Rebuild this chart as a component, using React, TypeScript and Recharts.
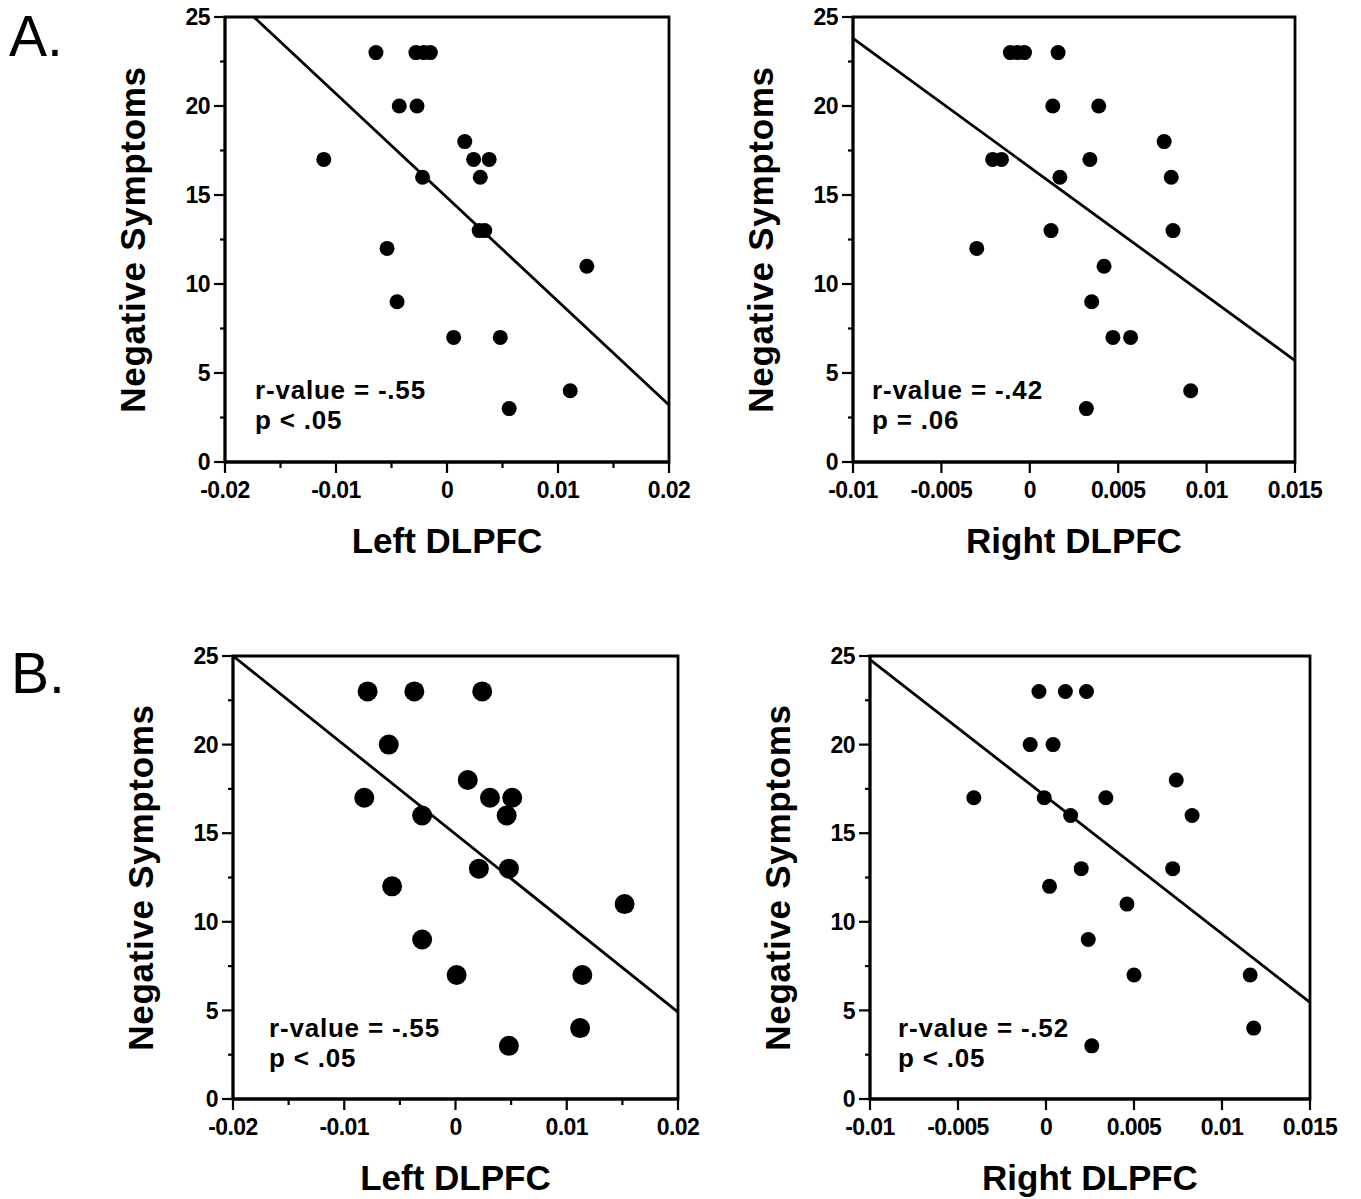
import React from 'react';
import { ScatterChart, Scatter, XAxis, YAxis, ReferenceLine, ReferenceArea } from 'recharts';

const FONT = '"Liberation Sans", Arial, Helvetica, sans-serif';

// tick values shared by the panels
const leftXMajor = [-0.02, -0.01, 0, 0.01, 0.02];
const leftXMinor = [-0.015, -0.005, 0.005, 0.015];
const rightXMajor = [-0.01, -0.005, 0, 0.005, 0.01, 0.015];
const rightXMinor: number[] = [];
const yMajor = [0, 5, 10, 15, 20, 25];
const yMinor = [2.5, 7.5, 12.5, 17.5, 22.5];

// A. left DLPFC
const aLeftX = [-0.0064, -0.0028, -0.0021, -0.0015, -0.0043, -0.0027, -0.0111, -0.0022, 0.0016, 0.0024, 0.0038, 0.003, 0.0029, 0.0034, -0.0054, -0.0045, 0.0006, 0.0048, 0.0126, 0.0111, 0.0056];
const aLeftY = [23, 23, 23, 23, 20, 20, 17, 16, 18, 17, 17, 16, 13, 13, 12, 9, 7, 7, 11, 4, 3];
const aLeftFitX = [-0.0174, 0.02];
const aLeftFitY = [25, 3.2];

// A. right DLPFC
const aRightX = [-0.0011, -0.0007, -0.0003, 0.0016, 0.0013, 0.0039, -0.0021, -0.0016, 0.0034, 0.0017, 0.0076, 0.008, 0.0081, 0.0012, -0.003, 0.0042, 0.0035, 0.0047, 0.0057, 0.0091, 0.0032];
const aRightY = [23, 23, 23, 23, 20, 20, 17, 17, 17, 16, 18, 16, 13, 13, 12, 11, 9, 7, 7, 4, 3];
const aRightFitX = [-0.01, 0.015];
const aRightFitY = [23.8, 5.7];

// B. left DLPFC
const bLeftX = [-0.0079, -0.0037, 0.0024, -0.006, -0.0082, -0.003, 0.0011, 0.0031, 0.0051, 0.0046, 0.0021, 0.0048, -0.0057, -0.003, 0.0001, 0.0114, 0.0152, 0.0112, 0.0048];
const bLeftY = [23, 23, 23, 20, 17, 16, 18, 17, 17, 16, 13, 13, 12, 9, 7, 7, 11, 4, 3];
const bLeftFitX = [-0.02, 0.02];
const bLeftFitY = [25, 4.9];

// B. right DLPFC
const bRightX = [-0.0004, 0.0011, 0.0023, -0.0009, 0.0004, -0.0041, -0.0001, 0.0034, 0.0014, 0.0074, 0.0083, 0.0072, 0.002, 0.0002, 0.0046, 0.0024, 0.005, 0.0116, 0.0118, 0.0026];
const bRightY = [23, 23, 23, 20, 20, 17, 17, 17, 16, 18, 16, 13, 13, 12, 11, 9, 7, 7, 4, 3];
const bRightFitX = [-0.01, 0.015];
const bRightFitY = [24.8, 5.45];

const isIn = (arr: number[], v: number) => arr.some((m) => Math.abs(m - v) < 1e-9);

const PAD_L = 150;
const PAD_T = 20;
const PAD_R = 60;
const PAD_B = 120;

function Panel(props: any) {
  const { left, top, w, h, xMajor, xMinor, xs, ys, fitX, fitY, r } = props;
  const data = xs.map((x: number, i: number) => ({ x, y: ys[i] }));
  const xDomain = [xMajor[0], xMajor[xMajor.length - 1]];
  const xTicks = [...xMajor, ...xMinor].sort((a, b) => a - b);
  const yTicks = [...yMajor, ...yMinor].sort((a, b) => a - b);

  const xTick = (p: any) => {
    const major = isIn(xMajor, p.payload.value);
    return (
      <g>
        <line x1={p.x} x2={p.x} y1={p.y} y2={p.y + (major ? 11 : 6)} stroke="#000" strokeWidth={2.2} />
        {major && (
          <text x={p.x} y={p.y + 36} textAnchor="middle" fontFamily={FONT} fontWeight="bold" fontSize={23} letterSpacing={-0.6} fill="#000">
            {String(p.payload.value)}
          </text>
        )}
      </g>
    );
  };
  const yTick = (p: any) => {
    const major = isIn(yMajor, p.payload.value);
    return (
      <g>
        <line x1={p.x} x2={p.x - (major ? 11 : 5)} y1={p.y} y2={p.y} stroke="#000" strokeWidth={2.2} />
        {major && (
          <text x={p.x - 15} y={p.y} dy="0.36em" textAnchor="end" fontFamily={FONT} fontWeight="bold" fontSize={23} letterSpacing={-0.6} fill="#000">
            {String(p.payload.value)}
          </text>
        )}
      </g>
    );
  };

  return (
    <div style={{ position: 'absolute', left: left - PAD_L, top: top - PAD_T }}>
      <ScatterChart width={w + PAD_L + PAD_R} height={h + PAD_T + PAD_B} margin={{ top: PAD_T, right: PAD_R, bottom: 0, left: 0 }}>
        <XAxis
          type="number"
          dataKey="x"
          domain={xDomain}
          ticks={xTicks}
          interval={0}
          height={PAD_B}
          tickSize={0}
          tickMargin={0}
          tickLine={false}
          tick={xTick}
          axisLine={{ stroke: '#000', strokeWidth: 2.8 }}
          allowDataOverflow
        />
        <YAxis
          type="number"
          dataKey="y"
          domain={[0, 25]}
          ticks={yTicks}
          interval={0}
          width={PAD_L}
          tickSize={0}
          tickMargin={0}
          tickLine={false}
          tick={yTick}
          axisLine={{ stroke: '#000', strokeWidth: 2.8 }}
          allowDataOverflow
        />
        <ReferenceArea x1={xDomain[0]} x2={xDomain[1]} y1={0} y2={25} fill="none" stroke="#000" strokeWidth={2.8} />
        <ReferenceLine
          segment={[{ x: fitX[0], y: fitY[0] }, { x: fitX[1], y: fitY[1] }]}
          stroke="#000"
          strokeWidth={2.8}
        />
        <Scatter
          data={data}
          isAnimationActive={false}
          shape={(s: any) => <circle cx={s.cx} cy={s.cy} r={r} fill="#000" />}
        />
      </ScatterChart>
    </div>
  );
}

const panels = [
  { key: 'al', left: 225, top: 17, w: 444, h: 445, xMajor: leftXMajor, xMinor: leftXMinor, xs: aLeftX, ys: aLeftY, fitX: aLeftFitX, fitY: aLeftFitY, r: 7.5, xLabel: 'Left DLPFC', r1: 'r-value = -.55', r2: 'p < .05', tx: 255, ty: 399 },
  { key: 'ar', left: 853, top: 17, w: 442, h: 445, xMajor: rightXMajor, xMinor: rightXMinor, xs: aRightX, ys: aRightY, fitX: aRightFitX, fitY: aRightFitY, r: 7.5, xLabel: 'Right DLPFC', r1: 'r-value = -.42', r2: 'p = .06', tx: 872, ty: 399 },
  { key: 'bl', left: 233, top: 656, w: 445, h: 443, xMajor: leftXMajor, xMinor: leftXMinor, xs: bLeftX, ys: bLeftY, fitX: bLeftFitX, fitY: bLeftFitY, r: 10, xLabel: 'Left DLPFC', r1: 'r-value = -.55', r2: 'p < .05', tx: 269, ty: 1037 },
  { key: 'br', left: 870, top: 656, w: 440, h: 443, xMajor: rightXMajor, xMinor: rightXMinor, xs: bRightX, ys: bRightY, fitX: bRightFitX, fitY: bRightFitY, r: 7.5, xLabel: 'Right DLPFC', r1: 'r-value = -.52', r2: 'p < .05', tx: 898, ty: 1037 },
];

export default function App() {
  return (
    <div style={{ position: 'absolute', left: 0, top: 0, width: 1361, height: 1199, background: '#fff', overflow: 'hidden' }}>
      {panels.map((p) => (
        <Panel key={p.key} {...p} />
      ))}
      <svg width={1361} height={1199} style={{ position: 'absolute', left: 0, top: 0, pointerEvents: 'none' }}>
        <text x={9} y={56} fontFamily={FONT} fontSize={57} fill="#000">A.</text>
        <text x={11} y={693} fontFamily={FONT} fontSize={57} fill="#000">B.</text>
        {panels.map((p) => (
          <g key={p.key} fontFamily={FONT} fontWeight="bold" fill="#000">
            <text
              transform={`translate(${p.left - 80}, ${p.top + p.h / 2}) rotate(-90)`}
              textAnchor="middle"
              fontSize={35}
              letterSpacing={0.7}
            >
              Negative Symptoms
            </text>
            <text x={p.left + p.w / 2} y={p.top + p.h + 91} textAnchor="middle" fontSize={35}>
              {p.xLabel}
            </text>
            <text x={p.tx} y={p.ty} fontSize={26} letterSpacing={0.8}>{p.r1}</text>
            <text x={p.tx} y={p.ty + 30} fontSize={26} letterSpacing={0.8}>{p.r2}</text>
          </g>
        ))}
      </svg>
    </div>
  );
}
